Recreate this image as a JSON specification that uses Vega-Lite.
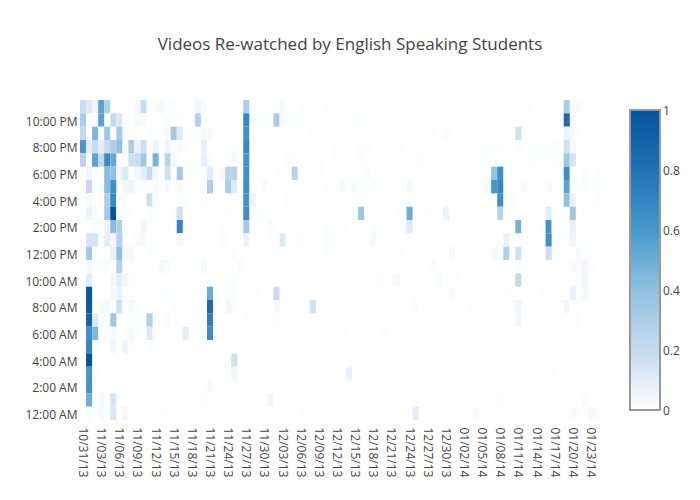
{"$schema":"https://vega.github.io/schema/vega-lite/v6.json","autosize":"none","width":520,"height":320,"padding":{"left":80,"top":100,"right":100,"bottom":80},"background":"white",
"title":{"text":"Videos Re-watched by English Speaking Students","font":"Open Sans","fontSize":17,"fontWeight":"normal","color":"#444444","anchor":"middle","dx":10,"offset":46},
"config":{"view":{"stroke":null}},
"data":{"values":[
{"d":"10/31/13","h":"11:00 PM","v":0.18},{"d":"11/01/13","h":"11:00 PM","v":0.12},{"d":"11/02/13","h":"11:00 PM","v":0.05},{"d":"11/03/13","h":"11:00 PM","v":0.55},{"d":"11/04/13","h":"11:00 PM","v":0.28},{"d":"11/09/13","h":"11:00 PM","v":0.03},{"d":"11/10/13","h":"11:00 PM","v":0.2},{"d":"11/12/13","h":"11:00 PM","v":0.02},{"d":"11/13/13","h":"11:00 PM","v":0.03},{"d":"11/15/13","h":"11:00 PM","v":0.02},{"d":"11/19/13","h":"11:00 PM","v":0.05},{"d":"11/20/13","h":"11:00 PM","v":0.02},{"d":"11/27/13","h":"11:00 PM","v":0.3},{"d":"12/03/13","h":"11:00 PM","v":0.03},{"d":"12/06/13","h":"11:00 PM","v":0.01},{"d":"12/10/13","h":"11:00 PM","v":0.01},{"d":"01/13/14","h":"11:00 PM","v":0.01},{"d":"01/19/14","h":"11:00 PM","v":0.3},{"d":"01/21/14","h":"11:00 PM","v":0.02},
{"d":"10/31/13","h":"10:00 PM","v":0.3},{"d":"11/02/13","h":"10:00 PM","v":0.03},{"d":"11/03/13","h":"10:00 PM","v":0.55},{"d":"11/05/13","h":"10:00 PM","v":0.2},{"d":"11/06/13","h":"10:00 PM","v":0.12},{"d":"11/09/13","h":"10:00 PM","v":0.03},{"d":"11/10/13","h":"10:00 PM","v":0.02},{"d":"11/14/13","h":"10:00 PM","v":0.01},{"d":"11/16/13","h":"10:00 PM","v":0.01},{"d":"11/19/13","h":"10:00 PM","v":0.27},{"d":"11/20/13","h":"10:00 PM","v":0.01},{"d":"11/27/13","h":"10:00 PM","v":0.68},{"d":"11/30/13","h":"10:00 PM","v":0.01},{"d":"12/02/13","h":"10:00 PM","v":0.3},{"d":"12/03/13","h":"10:00 PM","v":0.03},{"d":"12/05/13","h":"10:00 PM","v":0.02},{"d":"12/15/13","h":"10:00 PM","v":0.01},{"d":"01/15/14","h":"10:00 PM","v":0.01},{"d":"01/19/14","h":"10:00 PM","v":0.85},
{"d":"10/31/13","h":"9:00 PM","v":0.22},{"d":"11/02/13","h":"9:00 PM","v":0.45},{"d":"11/03/13","h":"9:00 PM","v":0.03},{"d":"11/04/13","h":"9:00 PM","v":0.35},{"d":"11/06/13","h":"9:00 PM","v":0.33},{"d":"11/08/13","h":"9:00 PM","v":0.01},{"d":"11/11/13","h":"9:00 PM","v":0.01},{"d":"11/14/13","h":"9:00 PM","v":0.03},{"d":"11/15/13","h":"9:00 PM","v":0.33},{"d":"11/16/13","h":"9:00 PM","v":0.12},{"d":"11/20/13","h":"9:00 PM","v":0.02},{"d":"11/21/13","h":"9:00 PM","v":0.02},{"d":"11/27/13","h":"9:00 PM","v":0.63},{"d":"12/08/13","h":"9:00 PM","v":0.01},{"d":"12/28/13","h":"9:00 PM","v":0.01},{"d":"12/30/13","h":"9:00 PM","v":0.02},{"d":"01/11/14","h":"9:00 PM","v":0.17},{"d":"01/19/14","h":"9:00 PM","v":0.07},{"d":"01/20/14","h":"9:00 PM","v":0.03},{"d":"01/21/14","h":"9:00 PM","v":0.01},
{"d":"10/31/13","h":"8:00 PM","v":0.6},{"d":"11/01/13","h":"8:00 PM","v":0.1},{"d":"11/02/13","h":"8:00 PM","v":0.2},{"d":"11/03/13","h":"8:00 PM","v":0.1},{"d":"11/04/13","h":"8:00 PM","v":0.2},{"d":"11/05/13","h":"8:00 PM","v":0.3},{"d":"11/06/13","h":"8:00 PM","v":0.4},{"d":"11/08/13","h":"8:00 PM","v":0.3},{"d":"11/09/13","h":"8:00 PM","v":0.06},{"d":"11/10/13","h":"8:00 PM","v":0.17},{"d":"11/12/13","h":"8:00 PM","v":0.06},{"d":"11/14/13","h":"8:00 PM","v":0.05},{"d":"11/15/13","h":"8:00 PM","v":0.02},{"d":"11/16/13","h":"8:00 PM","v":0.02},{"d":"11/17/13","h":"8:00 PM","v":0.01},{"d":"11/20/13","h":"8:00 PM","v":0.08},{"d":"11/25/13","h":"8:00 PM","v":0.01},{"d":"11/27/13","h":"8:00 PM","v":0.68},{"d":"12/12/13","h":"8:00 PM","v":0.01},{"d":"12/16/13","h":"8:00 PM","v":0.01},{"d":"12/17/13","h":"8:00 PM","v":0.01},{"d":"12/23/13","h":"8:00 PM","v":0.01},{"d":"01/06/14","h":"8:00 PM","v":0.01},{"d":"01/08/14","h":"8:00 PM","v":0.01},{"d":"01/11/14","h":"8:00 PM","v":0.02},{"d":"01/14/14","h":"8:00 PM","v":0.01},{"d":"01/16/14","h":"8:00 PM","v":0.01},{"d":"01/17/14","h":"8:00 PM","v":0.02},{"d":"01/19/14","h":"8:00 PM","v":0.17},{"d":"01/20/14","h":"8:00 PM","v":0.03},
{"d":"10/31/13","h":"7:00 PM","v":0.25},{"d":"11/01/13","h":"7:00 PM","v":0.03},{"d":"11/02/13","h":"7:00 PM","v":0.55},{"d":"11/03/13","h":"7:00 PM","v":0.22},{"d":"11/04/13","h":"7:00 PM","v":0.68},{"d":"11/05/13","h":"7:00 PM","v":0.52},{"d":"11/08/13","h":"7:00 PM","v":0.18},{"d":"11/09/13","h":"7:00 PM","v":0.18},{"d":"11/10/13","h":"7:00 PM","v":0.35},{"d":"11/12/13","h":"7:00 PM","v":0.47},{"d":"11/14/13","h":"7:00 PM","v":0.25},{"d":"11/15/13","h":"7:00 PM","v":0.03},{"d":"11/20/13","h":"7:00 PM","v":0.09},{"d":"11/21/13","h":"7:00 PM","v":0.02},{"d":"11/24/13","h":"7:00 PM","v":0.01},{"d":"11/25/13","h":"7:00 PM","v":0.02},{"d":"11/27/13","h":"7:00 PM","v":0.62},{"d":"12/04/13","h":"7:00 PM","v":0.01},{"d":"12/05/13","h":"7:00 PM","v":0.01},{"d":"12/09/13","h":"7:00 PM","v":0.01},{"d":"12/12/13","h":"7:00 PM","v":0.01},{"d":"12/16/13","h":"7:00 PM","v":0.01},{"d":"12/26/13","h":"7:00 PM","v":0.01},{"d":"01/05/14","h":"7:00 PM","v":0.01},{"d":"01/13/14","h":"7:00 PM","v":0.01},{"d":"01/17/14","h":"7:00 PM","v":0.01},{"d":"01/19/14","h":"7:00 PM","v":0.35},{"d":"01/20/14","h":"7:00 PM","v":0.15},
{"d":"11/01/13","h":"6:00 PM","v":0.05},{"d":"11/04/13","h":"6:00 PM","v":0.42},{"d":"11/05/13","h":"6:00 PM","v":0.4},{"d":"11/06/13","h":"6:00 PM","v":0.05},{"d":"11/07/13","h":"6:00 PM","v":0.12},{"d":"11/09/13","h":"6:00 PM","v":0.05},{"d":"11/10/13","h":"6:00 PM","v":0.1},{"d":"11/11/13","h":"6:00 PM","v":0.2},{"d":"11/12/13","h":"6:00 PM","v":0.03},{"d":"11/14/13","h":"6:00 PM","v":0.17},{"d":"11/16/13","h":"6:00 PM","v":0.33},{"d":"11/18/13","h":"6:00 PM","v":0.01},{"d":"11/21/13","h":"6:00 PM","v":0.1},{"d":"11/23/13","h":"6:00 PM","v":0.02},{"d":"11/24/13","h":"6:00 PM","v":0.25},{"d":"11/25/13","h":"6:00 PM","v":0.25},{"d":"11/27/13","h":"6:00 PM","v":0.63},{"d":"12/02/13","h":"6:00 PM","v":0.01},{"d":"12/04/13","h":"6:00 PM","v":0.01},{"d":"12/05/13","h":"6:00 PM","v":0.27},{"d":"12/09/13","h":"6:00 PM","v":0.01},{"d":"12/17/13","h":"6:00 PM","v":0.02},{"d":"01/07/14","h":"6:00 PM","v":0.38},{"d":"01/08/14","h":"6:00 PM","v":0.63},{"d":"01/19/14","h":"6:00 PM","v":0.65},{"d":"01/20/14","h":"6:00 PM","v":0.01},{"d":"01/22/14","h":"6:00 PM","v":0.02},{"d":"01/24/14","h":"6:00 PM","v":0.01},
{"d":"11/01/13","h":"5:00 PM","v":0.2},{"d":"11/03/13","h":"5:00 PM","v":0.02},{"d":"11/04/13","h":"5:00 PM","v":0.42},{"d":"11/05/13","h":"5:00 PM","v":0.65},{"d":"11/07/13","h":"5:00 PM","v":0.05},{"d":"11/08/13","h":"5:00 PM","v":0.05},{"d":"11/09/13","h":"5:00 PM","v":0.01},{"d":"11/10/13","h":"5:00 PM","v":0.01},{"d":"11/12/13","h":"5:00 PM","v":0.02},{"d":"11/14/13","h":"5:00 PM","v":0.03},{"d":"11/16/13","h":"5:00 PM","v":0.02},{"d":"11/21/13","h":"5:00 PM","v":0.3},{"d":"11/24/13","h":"5:00 PM","v":0.3},{"d":"11/25/13","h":"5:00 PM","v":0.11},{"d":"11/27/13","h":"5:00 PM","v":0.65},{"d":"11/30/13","h":"5:00 PM","v":0.03},{"d":"12/10/13","h":"5:00 PM","v":0.01},{"d":"12/13/13","h":"5:00 PM","v":0.03},{"d":"12/15/13","h":"5:00 PM","v":0.02},{"d":"12/18/13","h":"5:00 PM","v":0.01},{"d":"12/24/13","h":"5:00 PM","v":0.03},{"d":"01/02/14","h":"5:00 PM","v":0.01},{"d":"01/05/14","h":"5:00 PM","v":0.01},{"d":"01/06/14","h":"5:00 PM","v":0.03},{"d":"01/07/14","h":"5:00 PM","v":0.6},{"d":"01/08/14","h":"5:00 PM","v":0.68},{"d":"01/12/14","h":"5:00 PM","v":0.02},{"d":"01/16/14","h":"5:00 PM","v":0.02},{"d":"01/19/14","h":"5:00 PM","v":0.55},{"d":"01/20/14","h":"5:00 PM","v":0.01},{"d":"01/21/14","h":"5:00 PM","v":0.01},{"d":"01/22/14","h":"5:00 PM","v":0.02},{"d":"01/24/14","h":"5:00 PM","v":0.01},
{"d":"11/01/13","h":"4:00 PM","v":0.03},{"d":"11/04/13","h":"4:00 PM","v":0.3},{"d":"11/05/13","h":"4:00 PM","v":0.68},{"d":"11/06/13","h":"4:00 PM","v":0.03},{"d":"11/07/13","h":"4:00 PM","v":0.02},{"d":"11/11/13","h":"4:00 PM","v":0.18},{"d":"11/12/13","h":"4:00 PM","v":0.02},{"d":"11/17/13","h":"4:00 PM","v":0.01},{"d":"11/20/13","h":"4:00 PM","v":0.01},{"d":"11/27/13","h":"4:00 PM","v":0.63},{"d":"11/28/13","h":"4:00 PM","v":0.07},{"d":"12/04/13","h":"4:00 PM","v":0.01},{"d":"12/20/13","h":"4:00 PM","v":0.01},{"d":"01/08/14","h":"4:00 PM","v":0.65},{"d":"01/10/14","h":"4:00 PM","v":0.02},{"d":"01/19/14","h":"4:00 PM","v":0.4},{"d":"01/20/14","h":"4:00 PM","v":0.07},{"d":"01/24/14","h":"4:00 PM","v":0.01},
{"d":"11/01/13","h":"3:00 PM","v":0.06},{"d":"11/02/13","h":"3:00 PM","v":0.02},{"d":"11/04/13","h":"3:00 PM","v":0.33},{"d":"11/05/13","h":"3:00 PM","v":1},{"d":"11/06/13","h":"3:00 PM","v":0.02},{"d":"11/08/13","h":"3:00 PM","v":0.01},{"d":"11/11/13","h":"3:00 PM","v":0.01},{"d":"11/15/13","h":"3:00 PM","v":0.01},{"d":"11/16/13","h":"3:00 PM","v":0.17},{"d":"11/24/13","h":"3:00 PM","v":0.01},{"d":"11/27/13","h":"3:00 PM","v":0.65},{"d":"11/29/13","h":"3:00 PM","v":0.01},{"d":"12/15/13","h":"3:00 PM","v":0.01},{"d":"12/16/13","h":"3:00 PM","v":0.35},{"d":"12/22/13","h":"3:00 PM","v":0.01},{"d":"12/24/13","h":"3:00 PM","v":0.5},{"d":"12/27/13","h":"3:00 PM","v":0.01},{"d":"12/30/13","h":"3:00 PM","v":0.08},{"d":"01/08/14","h":"3:00 PM","v":0.27},{"d":"01/09/14","h":"3:00 PM","v":0.01},{"d":"01/16/14","h":"3:00 PM","v":0.1},{"d":"01/20/14","h":"3:00 PM","v":0.35},{"d":"01/22/14","h":"3:00 PM","v":0.01},
{"d":"11/02/13","h":"2:00 PM","v":0.02},{"d":"11/03/13","h":"2:00 PM","v":0.02},{"d":"11/04/13","h":"2:00 PM","v":0.06},{"d":"11/05/13","h":"2:00 PM","v":0.42},{"d":"11/06/13","h":"2:00 PM","v":0.28},{"d":"11/07/13","h":"2:00 PM","v":0.02},{"d":"11/10/13","h":"2:00 PM","v":0.05},{"d":"11/16/13","h":"2:00 PM","v":0.7},{"d":"11/23/13","h":"2:00 PM","v":0.01},{"d":"11/26/13","h":"2:00 PM","v":0.01},{"d":"11/27/13","h":"2:00 PM","v":0.33},{"d":"12/01/13","h":"2:00 PM","v":0.02},{"d":"12/10/13","h":"2:00 PM","v":0.01},{"d":"12/13/13","h":"2:00 PM","v":0.01},{"d":"12/18/13","h":"2:00 PM","v":0.01},{"d":"12/23/13","h":"2:00 PM","v":0.01},{"d":"12/24/13","h":"2:00 PM","v":0.12},{"d":"01/06/14","h":"2:00 PM","v":0.01},{"d":"01/11/14","h":"2:00 PM","v":0.48},{"d":"01/12/14","h":"2:00 PM","v":0.01},{"d":"01/15/14","h":"2:00 PM","v":0.01},{"d":"01/16/14","h":"2:00 PM","v":0.63},{"d":"01/17/14","h":"2:00 PM","v":0.01},{"d":"01/20/14","h":"2:00 PM","v":0.08},
{"d":"11/01/13","h":"1:00 PM","v":0.15},{"d":"11/02/13","h":"1:00 PM","v":0.15},{"d":"11/04/13","h":"1:00 PM","v":0.1},{"d":"11/05/13","h":"1:00 PM","v":0.05},{"d":"11/06/13","h":"1:00 PM","v":0.27},{"d":"11/09/13","h":"1:00 PM","v":0.02},{"d":"11/10/13","h":"1:00 PM","v":0.03},{"d":"11/16/13","h":"1:00 PM","v":0.03},{"d":"11/23/13","h":"1:00 PM","v":0.02},{"d":"11/27/13","h":"1:00 PM","v":0.07},{"d":"12/01/13","h":"1:00 PM","v":0.01},{"d":"12/03/13","h":"1:00 PM","v":0.13},{"d":"12/06/13","h":"1:00 PM","v":0.01},{"d":"12/10/13","h":"1:00 PM","v":0.01},{"d":"12/12/13","h":"1:00 PM","v":0.01},{"d":"12/16/13","h":"1:00 PM","v":0.01},{"d":"12/18/13","h":"1:00 PM","v":0.03},{"d":"01/09/14","h":"1:00 PM","v":0.07},{"d":"01/16/14","h":"1:00 PM","v":0.63},{"d":"01/18/14","h":"1:00 PM","v":0.01},{"d":"01/20/14","h":"1:00 PM","v":0.05},{"d":"01/23/14","h":"1:00 PM","v":0.01},
{"d":"11/01/13","h":"12:00 PM","v":0.33},{"d":"11/02/13","h":"12:00 PM","v":0.01},{"d":"11/05/13","h":"12:00 PM","v":0.07},{"d":"11/06/13","h":"12:00 PM","v":0.4},{"d":"11/07/13","h":"12:00 PM","v":0.03},{"d":"11/08/13","h":"12:00 PM","v":0.03},{"d":"11/11/13","h":"12:00 PM","v":0.01},{"d":"11/25/13","h":"12:00 PM","v":0.01},{"d":"12/02/13","h":"12:00 PM","v":0.01},{"d":"12/10/13","h":"12:00 PM","v":0.01},{"d":"12/21/13","h":"12:00 PM","v":0.01},{"d":"12/23/13","h":"12:00 PM","v":0.01},{"d":"12/31/13","h":"12:00 PM","v":0.03},{"d":"01/07/14","h":"12:00 PM","v":0.03},{"d":"01/09/14","h":"12:00 PM","v":0.28},{"d":"01/11/14","h":"12:00 PM","v":0.17},{"d":"01/16/14","h":"12:00 PM","v":0.17},{"d":"01/21/14","h":"12:00 PM","v":0.02},
{"d":"11/01/13","h":"11:00 AM","v":0.03},{"d":"11/02/13","h":"11:00 AM","v":0.02},{"d":"11/03/13","h":"11:00 AM","v":0.02},{"d":"11/04/13","h":"11:00 AM","v":0.01},{"d":"11/06/13","h":"11:00 AM","v":0.28},{"d":"11/13/13","h":"11:00 AM","v":0.03},{"d":"11/14/13","h":"11:00 AM","v":0.02},{"d":"11/20/13","h":"11:00 AM","v":0.03},{"d":"11/22/13","h":"11:00 AM","v":0.01},{"d":"11/26/13","h":"11:00 AM","v":0.02},{"d":"12/04/13","h":"11:00 AM","v":0.01},{"d":"12/28/13","h":"11:00 AM","v":0.02},{"d":"01/11/14","h":"11:00 AM","v":0.02},{"d":"01/20/14","h":"11:00 AM","v":0.02},{"d":"01/21/14","h":"11:00 AM","v":0.02},{"d":"01/22/14","h":"11:00 AM","v":0.04},{"d":"01/23/14","h":"11:00 AM","v":0.02},
{"d":"11/01/13","h":"10:00 AM","v":0.1},{"d":"11/05/13","h":"10:00 AM","v":0.05},{"d":"11/06/13","h":"10:00 AM","v":0.1},{"d":"11/07/13","h":"10:00 AM","v":0.05},{"d":"11/08/13","h":"10:00 AM","v":0.01},{"d":"11/25/13","h":"10:00 AM","v":0.01},{"d":"12/19/13","h":"10:00 AM","v":0.01},{"d":"12/22/13","h":"10:00 AM","v":0.03},{"d":"12/29/13","h":"10:00 AM","v":0.02},{"d":"01/01/14","h":"10:00 AM","v":0.01},{"d":"01/11/14","h":"10:00 AM","v":0.22},{"d":"01/21/14","h":"10:00 AM","v":0.01},{"d":"01/22/14","h":"10:00 AM","v":0.05},
{"d":"11/01/13","h":"9:00 AM","v":0.97},{"d":"11/05/13","h":"9:00 AM","v":0.04},{"d":"11/06/13","h":"9:00 AM","v":0.07},{"d":"11/13/13","h":"9:00 AM","v":0.01},{"d":"11/21/13","h":"9:00 AM","v":0.5},{"d":"11/25/13","h":"9:00 AM","v":0.01},{"d":"11/29/13","h":"9:00 AM","v":0.01},{"d":"12/02/13","h":"9:00 AM","v":0.2},{"d":"12/31/13","h":"9:00 AM","v":0.02},{"d":"01/09/14","h":"9:00 AM","v":0.01},{"d":"01/10/14","h":"9:00 AM","v":0.01},{"d":"01/15/14","h":"9:00 AM","v":0.01},{"d":"01/20/14","h":"9:00 AM","v":0.08},{"d":"01/22/14","h":"9:00 AM","v":0.04},
{"d":"11/01/13","h":"8:00 AM","v":0.95},{"d":"11/03/13","h":"8:00 AM","v":0.02},{"d":"11/04/13","h":"8:00 AM","v":0.03},{"d":"11/06/13","h":"8:00 AM","v":0.17},{"d":"11/08/13","h":"8:00 AM","v":0.03},{"d":"11/09/13","h":"8:00 AM","v":0.01},{"d":"11/15/13","h":"8:00 AM","v":0.01},{"d":"11/21/13","h":"8:00 AM","v":0.85},{"d":"11/24/13","h":"8:00 AM","v":0.04},{"d":"11/25/13","h":"8:00 AM","v":0.02},{"d":"12/02/13","h":"8:00 AM","v":0.03},{"d":"12/08/13","h":"8:00 AM","v":0.17},{"d":"12/25/13","h":"8:00 AM","v":0.02},{"d":"01/03/14","h":"8:00 AM","v":0.01},{"d":"01/11/14","h":"8:00 AM","v":0.05},{"d":"01/19/14","h":"8:00 AM","v":0.05},
{"d":"11/01/13","h":"7:00 AM","v":0.9},{"d":"11/02/13","h":"7:00 AM","v":0.12},{"d":"11/04/13","h":"7:00 AM","v":0.02},{"d":"11/05/13","h":"7:00 AM","v":0.35},{"d":"11/10/13","h":"7:00 AM","v":0.01},{"d":"11/11/13","h":"7:00 AM","v":0.3},{"d":"11/14/13","h":"7:00 AM","v":0.03},{"d":"11/21/13","h":"7:00 AM","v":0.72},{"d":"11/27/13","h":"7:00 AM","v":0.01},{"d":"12/02/13","h":"7:00 AM","v":0.01},{"d":"01/11/14","h":"7:00 AM","v":0.05},{"d":"01/21/14","h":"7:00 AM","v":0.02},
{"d":"11/01/13","h":"6:00 AM","v":0.65},{"d":"11/02/13","h":"6:00 AM","v":0.45},{"d":"11/04/13","h":"6:00 AM","v":0.03},{"d":"11/05/13","h":"6:00 AM","v":0.03},{"d":"11/07/13","h":"6:00 AM","v":0.01},{"d":"11/08/13","h":"6:00 AM","v":0.03},{"d":"11/09/13","h":"6:00 AM","v":0.01},{"d":"11/11/13","h":"6:00 AM","v":0.12},{"d":"11/17/13","h":"6:00 AM","v":0.1},{"d":"11/21/13","h":"6:00 AM","v":0.65},{"d":"11/22/13","h":"6:00 AM","v":0.02},{"d":"12/13/13","h":"6:00 AM","v":0.01},{"d":"12/20/13","h":"6:00 AM","v":0.01},
{"d":"11/01/13","h":"5:00 AM","v":0.7},{"d":"11/05/13","h":"5:00 AM","v":0.05},{"d":"11/07/13","h":"5:00 AM","v":0.06},{"d":"11/08/13","h":"5:00 AM","v":0.01},{"d":"11/11/13","h":"5:00 AM","v":0.01},{"d":"11/20/13","h":"5:00 AM","v":0.01},
{"d":"11/01/13","h":"4:00 AM","v":1},{"d":"11/25/13","h":"4:00 AM","v":0.17},
{"d":"11/01/13","h":"3:00 AM","v":0.62},{"d":"11/02/13","h":"3:00 AM","v":0.01},{"d":"11/25/13","h":"3:00 AM","v":0.05},{"d":"11/26/13","h":"3:00 AM","v":0.01},{"d":"12/14/13","h":"3:00 AM","v":0.07},{"d":"01/14/14","h":"3:00 AM","v":0.01},{"d":"01/17/14","h":"3:00 AM","v":0.01},
{"d":"11/01/13","h":"2:00 AM","v":0.62},{"d":"11/21/13","h":"2:00 AM","v":0.03},
{"d":"11/01/13","h":"1:00 AM","v":0.5},{"d":"11/03/13","h":"1:00 AM","v":0.02},{"d":"11/05/13","h":"1:00 AM","v":0.15},{"d":"11/09/13","h":"1:00 AM","v":0.01},{"d":"11/20/13","h":"1:00 AM","v":0.01},{"d":"12/01/13","h":"1:00 AM","v":0.05},{"d":"01/08/14","h":"1:00 AM","v":0.01},{"d":"01/22/14","h":"1:00 AM","v":0.02},
{"d":"11/01/13","h":"12:00 AM","v":0.02},{"d":"11/03/13","h":"12:00 AM","v":0.03},{"d":"11/05/13","h":"12:00 AM","v":0.13},{"d":"11/07/13","h":"12:00 AM","v":0.04},{"d":"11/13/13","h":"12:00 AM","v":0.01},{"d":"11/14/13","h":"12:00 AM","v":0.01},{"d":"12/06/13","h":"12:00 AM","v":0.01},{"d":"12/25/13","h":"12:00 AM","v":0.1},{"d":"01/04/14","h":"12:00 AM","v":0.02},{"d":"01/20/14","h":"12:00 AM","v":0.02},{"d":"01/21/14","h":"12:00 AM","v":0.01},{"d":"01/23/14","h":"12:00 AM","v":0.03},{"d":"01/24/14","h":"12:00 AM","v":0.01}
]},
"mark":{"type":"rect","stroke":null},
"encoding":{
"x":{"field":"d","type":"ordinal","title":null,"scale":{"paddingInner":0,"paddingOuter":0,"domain":["10/31/13","11/01/13","11/02/13","11/03/13","11/04/13","11/05/13","11/06/13","11/07/13","11/08/13","11/09/13","11/10/13","11/11/13","11/12/13","11/13/13","11/14/13","11/15/13","11/16/13","11/17/13","11/18/13","11/19/13","11/20/13","11/21/13","11/22/13","11/23/13","11/24/13","11/25/13","11/26/13","11/27/13","11/28/13","11/29/13","11/30/13","12/01/13","12/02/13","12/03/13","12/04/13","12/05/13","12/06/13","12/07/13","12/08/13","12/09/13","12/10/13","12/11/13","12/12/13","12/13/13","12/14/13","12/15/13","12/16/13","12/17/13","12/18/13","12/19/13","12/20/13","12/21/13","12/22/13","12/23/13","12/24/13","12/25/13","12/26/13","12/27/13","12/28/13","12/29/13","12/30/13","12/31/13","01/01/14","01/02/14","01/03/14","01/04/14","01/05/14","01/06/14","01/07/14","01/08/14","01/09/14","01/10/14","01/11/14","01/12/14","01/13/14","01/14/14","01/15/14","01/16/14","01/17/14","01/18/14","01/19/14","01/20/14","01/21/14","01/22/14","01/23/14","01/24/14"]},
"axis":{"values":["10/31/13","11/03/13","11/06/13","11/09/13","11/12/13","11/15/13","11/18/13","11/21/13","11/24/13","11/27/13","11/30/13","12/03/13","12/06/13","12/09/13","12/12/13","12/15/13","12/18/13","12/21/13","12/24/13","12/27/13","12/30/13","01/02/14","01/05/14","01/08/14","01/11/14","01/14/14","01/17/14","01/20/14","01/23/14"],"labelAngle":90,"labelFont":"Open Sans","labelFontSize":12,"labelColor":"#444444","ticks":false,"domain":false,"grid":false,"labelPadding":7,"labelOverlap":false,"labelBaseline":"middle","labelAlign":"left"}},
"y":{"field":"h","type":"ordinal","title":null,"scale":{"paddingInner":0,"paddingOuter":0,"domain":["11:00 PM","10:00 PM","9:00 PM","8:00 PM","7:00 PM","6:00 PM","5:00 PM","4:00 PM","3:00 PM","2:00 PM","1:00 PM","12:00 PM","11:00 AM","10:00 AM","9:00 AM","8:00 AM","7:00 AM","6:00 AM","5:00 AM","4:00 AM","3:00 AM","2:00 AM","1:00 AM","12:00 AM"]},
"axis":{"values":["10:00 PM","8:00 PM","6:00 PM","4:00 PM","2:00 PM","12:00 PM","10:00 AM","8:00 AM","6:00 AM","4:00 AM","2:00 AM","12:00 AM"],"labelFont":"Open Sans","labelFontSize":12,"labelColor":"#444444","ticks":false,"domain":false,"grid":false,"labelPadding":3,"labelOverlap":false,"labelOffset":1.5}},
"color":{"field":"v","type":"quantitative","title":null,
"scale":{"domain":[0,0.2,0.4,0.5,0.6,0.8,1],"range":["#ffffff","#c6dbef","#92c0df","#6baed6","#4a97cb","#2171b5","#08519c"],"clamp":true,"interpolate":"rgb"},
"legend":{"orient":"none","legendX":550,"legendY":10,"direction":"vertical","type":"gradient","gradientLength":300,"gradientThickness":30,"gradientStrokeColor":"#999999","gradientStrokeWidth":2,"values":[0,0.2,0.4,0.6,0.8,1],"labelFont":"Open Sans","labelFontSize":12,"labelColor":"#444444","labelOffset":3,"format":"~g","title":null,"encode":{"labels":{"update":{"baseline":{"value":"middle"},"dy":{"value":1}}}}}}
}}
